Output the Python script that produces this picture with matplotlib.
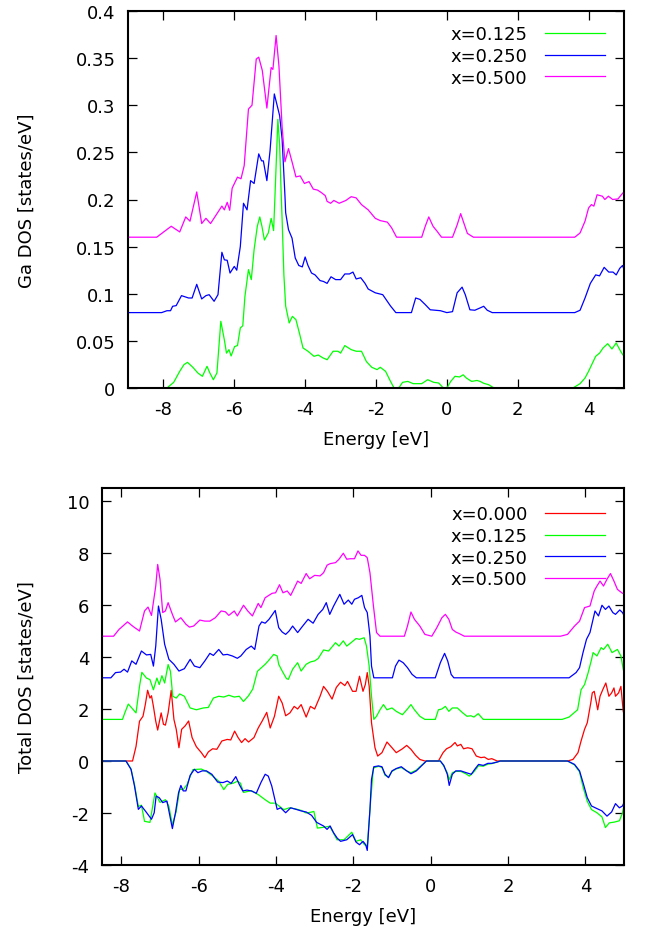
import matplotlib
matplotlib.use("Agg")
import matplotlib.pyplot as plt
import numpy as np
from matplotlib.ticker import FuncFormatter, MultipleLocator

plt.rcParams['font.family'] = ['DejaVu Sans']
plt.rcParams['axes.unicode_minus'] = False

# ---- Ga DOS (top panel), (energy eV, states/eV) ----
ga_125 = [(-9.0, 0), (-7.9, 0), (-7.71, 0.006), (-7.54, 0.0177), (-7.42, 0.0248), (-7.32, 0.0272),
          (-7.17, 0.022), (-7.03, 0.016), (-6.90, 0.0124), (-6.77, 0.023), (-6.69, 0.016), (-6.59, 0.0088),
          (-6.49, 0.016), (-6.38, 0.0708), (-6.28, 0.051), (-6.22, 0.037), (-6.15, 0.0407), (-6.09, 0.034),
          (-5.99, 0.044), (-5.91, 0.045), (-5.83, 0.0637), (-5.76, 0.066), (-5.70, 0.097), (-5.60, 0.1256),
          (-5.52, 0.115), (-5.44, 0.147), (-5.35, 0.1716), (-5.28, 0.1815), (-5.22, 0.1716), (-5.15, 0.157),
          (-5.04, 0.1645), (-4.96, 0.180), (-4.89, 0.167), (-4.84, 0.215), (-4.77, 0.285), (-4.72, 0.258),
          (-4.68, 0.21), (-4.65, 0.179), (-4.60, 0.12), (-4.55, 0.087), (-4.45, 0.069), (-4.36, 0.076),
          (-4.26, 0.0725), (-4.16, 0.058), (-4.06, 0.0425), (-3.92, 0.039), (-3.75, 0.0336), (-3.63, 0.035),
          (-3.50, 0.032), (-3.38, 0.030), (-3.21, 0.039), (-3.07, 0.039), (-3.0, 0.037), (-2.88, 0.045),
          (-2.70, 0.0407), (-2.56, 0.039), (-2.41, 0.039), (-2.27, 0.028), (-2.12, 0.022), (-1.97, 0.0195),
          (-1.88, 0.022), (-1.73, 0.0177), (-1.59, 0.007), (-1.49, 0), (-1.36, 0), (-1.25, 0.006),
          (-1.10, 0.007), (-0.95, 0.0046), (-0.71, 0.0046), (-0.54, 0.0088), (-0.37, 0.006), (-0.23, 0.0053),
          (-0.1, 0), (0.0, 0), (0.11, 0.007), (0.23, 0.0124), (0.36, 0.0117), (0.46, 0.014), (0.55, 0.0106),
          (0.70, 0.007), (0.85, 0.008), (0.94, 0.007), (1.04, 0.005), (1.18, 0.0035), (1.33, 0), (3.56, 0),
          (3.76, 0.0046), (3.90, 0.0106), (4.0, 0.0177), (4.20, 0.0336), (4.31, 0.037), (4.41, 0.0425),
          (4.54, 0.047), (4.66, 0.0414), (4.78, 0.0478), (4.88, 0.0407), (4.97, 0.035), (5.0, 0.035)]

ga_250 = [(-9, 0.08), (-8.05, 0.08), (-7.9, 0.082), (-7.8, 0.082), (-7.74, 0.0867), (-7.64, 0.0874),
          (-7.49, 0.098), (-7.29, 0.0955), (-7.19, 0.0955), (-7.06, 0.110), (-6.92, 0.0945), (-6.80, 0.098),
          (-6.71, 0.099), (-6.57, 0.092), (-6.46, 0.099), (-6.35, 0.144), (-6.28, 0.136), (-6.20, 0.1355),
          (-6.12, 0.122), (-6.0, 0.129), (-5.93, 0.125), (-5.83, 0.150), (-5.74, 0.196), (-5.64, 0.189),
          (-5.57, 0.2106), (-5.54, 0.220), (-5.44, 0.217), (-5.31, 0.2484), (-5.23, 0.241), (-5.18, 0.241),
          (-5.08, 0.220), (-4.99, 0.252), (-4.87, 0.312), (-4.72, 0.289), (-4.65, 0.264), (-4.57, 0.204),
          (-4.55, 0.186), (-4.47, 0.168), (-4.37, 0.159), (-4.28, 0.138), (-4.18, 0.130), (-4.08, 0.1285),
          (-4.0, 0.139), (-3.92, 0.130), (-3.82, 0.122), (-3.72, 0.120), (-3.58, 0.114), (-3.48, 0.113),
          (-3.38, 0.111), (-3.27, 0.118), (-3.14, 0.115), (-3.0, 0.115), (-2.88, 0.121), (-2.75, 0.121),
          (-2.65, 0.123), (-2.56, 0.1157), (-2.43, 0.117), (-2.31, 0.111), (-2.22, 0.105), (-2.02, 0.101),
          (-1.81, 0.099), (-1.59, 0.087), (-1.44, 0.080), (-1.0, 0.080), (-0.88, 0.0955), (-0.76, 0.094),
          (-0.61, 0.0885), (-0.47, 0.083), (-0.18, 0.082), (0.0, 0.080), (0.16, 0.081), (0.29, 0.101),
          (0.43, 0.107), (0.52, 0.099), (0.65, 0.083), (0.79, 0.0825), (0.94, 0.085), (1.04, 0.0867),
          (1.14, 0.0825), (1.28, 0.080), (3.61, 0.080), (3.76, 0.0825), (3.90, 0.0955), (4.05, 0.111),
          (4.20, 0.120), (4.31, 0.119), (4.44, 0.128), (4.57, 0.123), (4.69, 0.123), (4.78, 0.120),
          (4.88, 0.127), (4.96, 0.130), (5.0, 0.1256)]

ga_500 = [(-9, 0.16), (-8.19, 0.16), (-7.78, 0.1716), (-7.54, 0.1656), (-7.37, 0.1815), (-7.25, 0.177),
          (-7.06, 0.208), (-6.92, 0.1745), (-6.80, 0.180), (-6.67, 0.1745), (-6.35, 0.193), (-6.28, 0.189),
          (-6.20, 0.197), (-6.13, 0.1886), (-6.06, 0.212), (-5.91, 0.2237), (-5.81, 0.222), (-5.72, 0.236),
          (-5.60, 0.296), (-5.50, 0.300), (-5.38, 0.349), (-5.31, 0.351), (-5.21, 0.337), (-5.08, 0.297),
          (-4.96, 0.340), (-4.91, 0.338), (-4.82, 0.374), (-4.74, 0.342), (-4.65, 0.277), (-4.57, 0.240),
          (-4.47, 0.254), (-4.37, 0.240), (-4.26, 0.224), (-4.14, 0.225), (-4.02, 0.217), (-3.89, 0.219),
          (-3.77, 0.211), (-3.65, 0.210), (-3.53, 0.207), (-3.43, 0.204), (-3.38, 0.198), (-3.28, 0.196),
          (-3.19, 0.199), (-3.04, 0.196), (-2.85, 0.199), (-2.70, 0.203), (-2.56, 0.2017), (-2.41, 0.1946),
          (-2.22, 0.189), (-2.02, 0.180), (-1.88, 0.1776), (-1.68, 0.176), (-1.56, 0.170), (-1.42, 0.160),
          (-0.71, 0.160), (-0.61, 0.1716), (-0.51, 0.1815), (-0.39, 0.1716), (-0.27, 0.166), (-0.15, 0.160),
          (0.16, 0.160), (0.29, 0.173), (0.39, 0.185), (0.48, 0.175), (0.58, 0.164), (0.75, 0.160),
          (3.61, 0.160), (3.76, 0.1645), (3.90, 0.177), (4.0, 0.191), (4.08, 0.1946), (4.15, 0.193),
          (4.24, 0.205), (4.39, 0.2035), (4.46, 0.200), (4.56, 0.2035), (4.68, 0.200), (4.83, 0.2006),
          (4.97, 0.207), (5.0, 0.208)]

# ---- Total DOS (bottom panel) ----
tot_000 = [(-8.5, 0), (-7.71, 0), (-7.62, 0.56), (-7.53, 1.53), (-7.44, 1.72), (-7.38, 2.17), (-7.32, 2.72),
           (-7.26, 2.42), (-7.22, 2.51), (-7.17, 2.10), (-7.11, 1.53), (-7.06, 1.19), (-6.97, 1.85),
           (-6.91, 1.41), (-6.86, 1.38), (-6.79, 1.85), (-6.71, 2.72), (-6.64, 1.60), (-6.58, 1.22),
           (-6.51, 0.51), (-6.44, 1.22), (-6.35, 1.35), (-6.26, 1.54), (-6.17, 0.90), (-6.06, 0.55),
           (-5.93, 0.32), (-5.84, 0.13), (-5.75, 0.35), (-5.64, 0.47), (-5.53, 0.45), (-5.40, 0.77),
           (-5.26, 0.83), (-5.17, 0.81), (-5.07, 1.15), (-4.98, 0.90), (-4.89, 0.71), (-4.80, 0.86),
           (-4.71, 0.73), (-4.57, 0.90), (-4.46, 1.27), (-4.36, 1.53), (-4.24, 1.87), (-4.15, 1.27),
           (-4.04, 1.72), (-3.93, 2.49), (-3.84, 2.23), (-3.75, 1.74), (-3.64, 1.85), (-3.53, 2.10),
           (-3.44, 2.0), (-3.35, 2.17), (-3.22, 1.69), (-3.11, 2.10), (-3.0, 2.0), (-2.86, 2.49),
           (-2.77, 2.87), (-2.67, 2.68), (-2.55, 2.38), (-2.44, 2.83), (-2.33, 3.03), (-2.22, 2.9),
           (-2.15, 3.06), (-2.02, 2.68), (-1.93, 2.68), (-1.84, 3.26), (-1.75, 2.68), (-1.69, 2.94),
           (-1.64, 3.40), (-1.59, 2.87), (-1.53, 1.47), (-1.44, 0.51), (-1.37, 0.19), (-1.26, 0.32),
           (-1.13, 0.73), (-1.0, 0.51), (-0.89, 0.32), (-0.73, 0.47), (-0.62, 0.60), (-0.51, 0.45),
           (-0.39, 0.22), (-0.28, 0.06), (-0.15, 0), (0.2, 0), (0.32, 0.32), (0.41, 0.47), (0.52, 0.55),
           (0.63, 0.71), (0.69, 0.58), (0.78, 0.64), (0.85, 0.47), (0.96, 0.51), (1.07, 0.47), (1.18, 0.19),
           (1.3, 0.13), (1.39, 0.15), (1.49, 0.06), (1.58, 0.09), (1.72, 0), (3.54, 0), (3.68, 0.06),
           (3.81, 0.32), (3.89, 0.77), (3.98, 1.22), (4.05, 1.47), (4.14, 2.23), (4.18, 2.62), (4.23, 2.68),
           (4.28, 2.29), (4.32, 1.97), (4.38, 2.49), (4.45, 2.74), (4.53, 3.0), (4.61, 2.49), (4.68, 2.62),
           (4.74, 2.81), (4.78, 2.49), (4.86, 2.62), (4.92, 2.87), (4.98, 1.91), (5.0, 1.8)]

tot_125_up = [(-8.5, 1.6), (-7.97, 1.6), (-7.91, 1.85), (-7.82, 2.19), (-7.73, 2.04), (-7.62, 1.85),
              (-7.53, 2.87), (-7.47, 3.41), (-7.35, 3.19), (-7.26, 3.13), (-7.17, 2.74), (-7.08, 3.19),
              (-7.02, 2.94), (-6.95, 3.28), (-6.88, 3.0), (-6.79, 3.71), (-6.73, 3.45), (-6.67, 2.49),
              (-6.58, 2.42), (-6.49, 2.58), (-6.37, 2.49), (-6.22, 2.04), (-6.06, 1.97), (-5.88, 2.04),
              (-5.75, 2.06), (-5.62, 2.42), (-5.48, 2.49), (-5.35, 2.46), (-5.22, 2.53), (-5.08, 2.46),
              (-4.95, 2.49), (-4.84, 2.29), (-4.71, 2.51), (-4.60, 2.77), (-4.48, 3.45), (-4.28, 3.72),
              (-4.20, 3.85), (-4.06, 4.10), (-3.97, 4.04), (-3.93, 3.72), (-3.84, 3.46), (-3.73, 3.17),
              (-3.68, 3.14), (-3.57, 3.53), (-3.44, 3.78), (-3.35, 3.46), (-3.22, 3.72), (-3.11, 3.81),
              (-3.0, 3.85), (-2.91, 3.94), (-2.77, 4.27), (-2.64, 4.23), (-2.46, 4.55), (-2.37, 4.42),
              (-2.26, 4.62), (-2.17, 4.42), (-2.06, 4.55), (-1.93, 4.71), (-1.84, 4.68), (-1.72, 4.74),
              (-1.66, 4.42), (-1.59, 3.65), (-1.53, 2.49), (-1.47, 1.6), (-1.40, 1.72), (-1.31, 1.97),
              (-1.22, 2.17), (-1.13, 1.97), (-1.0, 2.04), (-0.89, 1.91), (-0.73, 1.78), (-0.6, 2.0),
              (-0.51, 2.17), (-0.42, 1.97), (-0.28, 1.72), (-0.15, 1.6), (0.12, 1.6), (0.2, 1.97), (0.29, 2.0),
              (0.38, 2.10), (0.47, 1.91), (0.56, 2.04), (0.69, 2.04), (0.83, 1.85), (0.94, 1.72), (1.04, 1.74),
              (1.12, 1.69), (1.23, 1.82), (1.36, 1.6), (3.40, 1.6), (3.58, 1.69), (3.80, 1.97), (3.89, 2.74),
              (3.98, 2.94), (4.07, 3.38), (4.16, 3.90), (4.20, 4.17), (4.30, 4.04), (4.41, 4.36), (4.47, 4.29),
              (4.58, 4.49), (4.69, 4.17), (4.83, 4.29), (4.92, 4.04), (4.98, 3.53), (5.0, 3.4)]

tot_125_dn = [(-8.5, 0), (-7.88, 0), (-7.75, -0.3), (-7.66, -0.9), (-7.56, -1.75), (-7.48, -1.7),
              (-7.40, -2.32), (-7.26, -2.36), (-7.13, -1.23), (-7.0, -1.59), (-6.86, -1.49), (-6.77, -1.74),
              (-6.68, -2.45), (-6.58, -1.94), (-6.49, -1.08), (-6.40, -1.1), (-6.30, -0.9), (-6.15, -0.33),
              (-5.93, -0.31), (-5.80, -0.4), (-5.66, -0.55), (-5.48, -0.78), (-5.35, -1.10), (-5.25, -0.9),
              (-5.10, -0.85), (-5.0, -0.78), (-4.92, -0.85), (-4.84, -1.21), (-4.64, -1.14), (-4.46, -1.29),
              (-4.28, -1.49), (-4.15, -1.62), (-4.02, -1.62), (-3.93, -1.72), (-3.80, -1.87), (-3.65, -1.8),
              (-3.48, -1.85), (-3.35, -1.9), (-3.22, -2.0), (-3.1, -1.97), (-3.02, -1.94), (-2.93, -2.58),
              (-2.77, -2.55), (-2.61, -2.51), (-2.42, -3.03), (-2.24, -3.03), (-2.04, -2.74), (-1.93, -3.09),
              (-1.81, -3.03), (-1.71, -3.22), (-1.64, -3.28), (-1.55, -1.49), (-1.48, -0.27), (-1.35, -0.2),
              (-1.26, -0.25), (-1.18, -0.55), (-1.09, -0.62), (-1.0, -0.4), (-0.89, -0.3), (-0.76, -0.25),
              (-0.62, -0.38), (-0.51, -0.45), (-0.37, -0.35), (-0.24, -0.17), (-0.11, 0), (0.25, 0),
              (0.34, -0.2), (0.43, -0.45), (0.48, -0.72), (0.56, -0.45), (0.65, -0.4), (0.78, -0.4),
              (0.92, -0.5), (1.0, -0.58), (1.1, -0.45), (1.24, -0.18), (1.36, -0.2), (1.48, -0.12),
              (1.58, -0.1), (1.72, -0.04), (1.8, 0), (3.54, 0), (3.72, -0.15), (3.85, -0.42), (3.94, -1.0),
              (4.05, -1.55), (4.16, -1.87), (4.30, -1.99), (4.43, -2.15), (4.52, -2.56), (4.62, -2.38),
              (4.75, -2.35), (4.88, -2.3), (4.96, -2.0), (5.0, -1.7)]

tot_250_up = [(-8.5, 3.2), (-8.27, 3.2), (-8.15, 3.40), (-8.02, 3.42), (-7.93, 3.53), (-7.84, 3.42),
              (-7.73, 3.85), (-7.62, 3.72), (-7.48, 4.23), (-7.35, 4.08), (-7.24, 4.10), (-7.17, 3.65),
              (-7.11, 4.42), (-7.04, 5.96), (-6.97, 5.45), (-6.88, 4.49), (-6.77, 3.91), (-6.64, 3.72),
              (-6.51, 3.46), (-6.37, 3.55), (-6.22, 3.91), (-6.11, 3.65), (-5.97, 3.59), (-5.84, 3.85),
              (-5.71, 4.14), (-5.62, 4.06), (-5.48, 4.29), (-5.37, 4.08), (-5.26, 4.10), (-5.13, 4.04),
              (-5.0, 3.95), (-4.91, 4.04), (-4.77, 4.29), (-4.64, 4.42), (-4.55, 4.29), (-4.44, 5.19),
              (-4.37, 5.35), (-4.28, 5.30), (-4.18, 5.45), (-4.09, 5.64), (-4.02, 5.79), (-3.93, 5.13),
              (-3.84, 4.96), (-3.75, 4.87), (-3.66, 5.0), (-3.57, 5.19), (-3.44, 4.94), (-3.31, 5.19),
              (-3.17, 5.45), (-3.04, 5.30), (-2.91, 5.64), (-2.79, 5.83), (-2.70, 6.09), (-2.61, 5.64),
              (-2.51, 5.96), (-2.35, 6.41), (-2.24, 6.03), (-2.13, 6.19), (-2.04, 6.03), (-1.97, 6.22),
              (-1.87, 6.28), (-1.78, 6.37), (-1.71, 5.90), (-1.64, 5.71), (-1.57, 4.81), (-1.53, 3.65),
              (-1.47, 3.2), (-0.99, 3.2), (-0.91, 3.65), (-0.82, 3.88), (-0.71, 3.78), (-0.60, 3.59),
              (-0.48, 3.33), (-0.37, 3.2), (0.12, 3.2), (0.25, 3.78), (0.36, 4.14), (0.44, 3.85), (0.53, 3.33),
              (0.6, 3.2), (3.58, 3.2), (3.76, 3.40), (3.85, 3.59), (3.94, 4.17), (4.03, 4.68), (4.12, 4.94),
              (4.25, 5.77), (4.34, 5.58), (4.43, 5.99), (4.52, 5.83), (4.61, 5.96), (4.71, 5.71), (4.78, 5.64),
              (4.89, 5.81), (4.96, 5.71), (5.0, 5.6)]

tot_250_dn = [(-8.5, 0), (-7.88, 0), (-7.75, -0.32), (-7.66, -0.96), (-7.56, -1.86), (-7.48, -1.73),
              (-7.38, -1.92), (-7.22, -2.24), (-7.15, -1.99), (-7.10, -1.35), (-7.02, -1.41), (-6.93, -1.60),
              (-6.82, -1.54), (-6.68, -2.60), (-6.60, -1.99), (-6.52, -1.22), (-6.46, -0.94), (-6.40, -1.15),
              (-6.33, -1.15), (-6.22, -0.55), (-6.11, -0.32), (-6.02, -0.45), (-5.91, -0.38), (-5.80, -0.38),
              (-5.66, -0.51), (-5.51, -0.81), (-5.37, -0.83), (-5.26, -0.77), (-5.16, -0.86), (-5.04, -0.60),
              (-4.95, -0.90), (-4.86, -1.15), (-4.75, -1.12), (-4.64, -1.15), (-4.51, -1.24), (-4.39, -0.83),
              (-4.28, -0.51), (-4.20, -0.58), (-4.11, -0.96), (-3.97, -1.86), (-3.88, -1.80), (-3.75, -1.99),
              (-3.62, -1.80), (-3.48, -1.86), (-3.35, -1.92), (-3.22, -1.96), (-3.08, -2.09), (-2.95, -2.36),
              (-2.77, -2.50), (-2.68, -2.63), (-2.60, -2.50), (-2.51, -2.76), (-2.42, -2.96), (-2.33, -3.09),
              (-2.17, -3.03), (-2.02, -2.83), (-1.93, -3.12), (-1.84, -3.22), (-1.75, -3.09), (-1.68, -3.22),
              (-1.64, -3.44), (-1.57, -1.86), (-1.53, -0.71), (-1.47, -0.22), (-1.35, -0.19), (-1.26, -0.22),
              (-1.18, -0.51), (-1.09, -0.64), (-1.0, -0.38), (-0.89, -0.29), (-0.76, -0.22), (-0.62, -0.38),
              (-0.51, -0.49), (-0.37, -0.38), (-0.24, -0.19), (-0.11, 0), (0.25, 0), (0.34, -0.17),
              (0.43, -0.51), (0.48, -0.94), (0.56, -0.51), (0.65, -0.38), (0.78, -0.38), (0.92, -0.45),
              (1.05, -0.51), (1.14, -0.32), (1.24, -0.13), (1.36, -0.17), (1.48, -0.09), (1.58, -0.09),
              (1.72, -0.04), (1.8, 0), (3.54, 0), (3.72, -0.13), (3.85, -0.38), (3.94, -0.83), (4.05, -1.41),
              (4.16, -1.73), (4.30, -1.83), (4.43, -1.92), (4.56, -2.12), (4.68, -1.96), (4.78, -1.64),
              (4.88, -1.80), (4.96, -1.73), (5.0, -1.6)]

tot_500 = [(-8.5, 4.8), (-8.2, 4.8), (-8.06, 5.06), (-7.84, 5.35), (-7.71, 5.19), (-7.53, 5.0), (-7.40, 5.77),
           (-7.31, 5.92), (-7.22, 5.60), (-7.11, 6.73), (-7.06, 7.56), (-7.0, 6.99), (-6.93, 5.71),
           (-6.86, 5.77), (-6.79, 6.09), (-6.68, 5.64), (-6.60, 5.35), (-6.46, 5.51), (-6.33, 5.26),
           (-6.24, 5.15), (-6.13, 5.19), (-5.97, 5.42), (-5.84, 5.38), (-5.71, 5.38), (-5.57, 5.51),
           (-5.42, 5.77), (-5.31, 5.74), (-5.22, 5.60), (-5.08, 5.77), (-5.0, 5.58), (-4.84, 5.99),
           (-4.73, 5.77), (-4.61, 5.58), (-4.46, 6.06), (-4.39, 5.90), (-4.28, 6.28), (-4.10, 6.45),
           (-4.01, 6.47), (-3.91, 6.78), (-3.82, 6.47), (-3.71, 6.54), (-3.62, 6.37), (-3.44, 6.92),
           (-3.35, 6.83), (-3.22, 7.21), (-3.13, 7.01), (-3.0, 7.14), (-2.86, 7.12), (-2.77, 7.24),
           (-2.68, 7.53), (-2.60, 7.59), (-2.46, 7.63), (-2.37, 7.76), (-2.26, 7.99), (-2.17, 7.76),
           (-2.08, 7.78), (-1.97, 7.78), (-1.88, 8.08), (-1.80, 7.91), (-1.71, 7.91), (-1.64, 7.82),
           (-1.57, 7.24), (-1.48, 5.96), (-1.40, 4.94), (-1.31, 4.8), (-0.68, 4.8), (-0.60, 5.19),
           (-0.51, 5.73), (-0.42, 5.45), (-0.28, 5.19), (-0.15, 4.87), (0.03, 4.8), (0.16, 5.13), (0.29, 5.51),
           (0.38, 5.64), (0.47, 5.45), (0.56, 5.06), (0.65, 4.96), (0.74, 4.9), (0.87, 4.8), (3.36, 4.8),
           (3.54, 4.87), (3.72, 5.19), (3.85, 5.38), (3.98, 5.90), (4.12, 5.96), (4.23, 6.54), (4.30, 6.73),
           (4.38, 6.92), (4.47, 6.73), (4.56, 6.99), (4.65, 7.21), (4.74, 6.92), (4.83, 6.60), (4.96, 6.45),
           (5.0, 6.45)]

RED, GREEN, BLUE, MAGENTA = '#ff0000', '#00ff00', '#0000ff', '#ff00ff'
LW = 0.9
FS = 13


def xy(pts):
    a = np.array(pts, dtype=float)
    return a[:, 0], a[:, 1]


def style(ax):
    for s in ax.spines.values():
        s.set_linewidth(1.5)
    ax.tick_params(direction='in', length=6.5, width=0.9, top=True, right=True,
                   labelsize=FS, pad=9)
    ax.xaxis.set_major_locator(MultipleLocator(2))
    ax.xaxis.set_major_formatter(FuncFormatter(lambda v, p: '%g' % v))
    ax.yaxis.set_major_formatter(FuncFormatter(lambda v, p: '%g' % round(v, 4)))
    ax.set_xlabel('Energy [eV]', fontsize=FS, labelpad=8)


def legend(ax, xr, yt):
    ax.legend(loc='upper right', bbox_to_anchor=(xr, yt), frameon=False, markerfirst=False,
              fontsize=FS, handlelength=3.3, handletextpad=1.0, labelspacing=0.2,
              borderpad=0, borderaxespad=0)


fig = plt.figure(figsize=(6.48, 9.37), dpi=100)

# top: Ga DOS
ax1 = fig.add_axes([128 / 648, 1 - 389 / 937, 496 / 648, 377 / 937])
ax1.plot(*xy(ga_125), color=GREEN, lw=LW, label='x=0.125')
ax1.plot(*xy(ga_250), color=BLUE, lw=LW, label='x=0.250')
ax1.plot(*xy(ga_500), color=MAGENTA, lw=LW, label='x=0.500')
ax1.set_xlim(-9, 5)
ax1.set_ylim(0, 0.4)
ax1.yaxis.set_major_locator(MultipleLocator(0.05))
style(ax1)
ax1.set_ylabel('Ga DOS [states/eV]', fontsize=FS)
ax1.yaxis.set_label_coords((36 - 128) / 496, 0.5)
legend(ax1, (605 - 128) / 496, 0.962)

# bottom: total DOS
ax2 = fig.add_axes([102 / 648, 1 - 866 / 937, 522 / 648, 377 / 937])
ax2.plot(*xy(tot_000), color=RED, lw=LW, label='x=0.000')
ax2.plot(*xy(tot_125_up), color=GREEN, lw=LW, label='x=0.125')
ax2.plot(*xy(tot_125_dn), color=GREEN, lw=LW)
ax2.plot(*xy(tot_250_up), color=BLUE, lw=LW, label='x=0.250')
ax2.plot(*xy(tot_250_dn), color=BLUE, lw=LW)
ax2.plot(*xy(tot_500), color=MAGENTA, lw=LW, label='x=0.500')
ax2.set_xlim(-8.5, 5)
ax2.set_ylim(-4, 10.5)
ax2.yaxis.set_major_locator(MultipleLocator(2))
style(ax2)
ax2.set_ylabel('Total DOS [states/eV]', fontsize=FS)
ax2.yaxis.set_label_coords((36 - 102) / 522, 0.5)
legend(ax2, (605 - 102) / 522, 0.954)

fig.savefig('out.png', dpi=100)
